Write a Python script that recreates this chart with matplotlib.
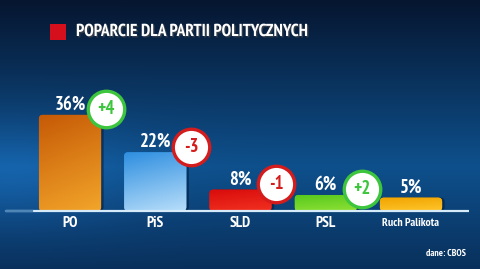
import numpy as np
import matplotlib
matplotlib.use("Agg")
import matplotlib.pyplot as plt
from matplotlib.patches import FancyBboxPatch, Rectangle
from matplotlib.colors import LinearSegmentedColormap
import matplotlib.patheffects as pe

# Data
parties = ["PO", "PiS", "SLD", "PSL", "Ruch Palikota"]
support = [36, 22, 8, 6, 5]
change = ["+4", "-3", "-1", "+2", None]
title = "POPARCIE DLA PARTII POLITYCZNYCH"
source = "dane: CBOS"

# bar colours (top, bottom)
bar_colors = [("#c65a06", "#f2a52a"), ("#2f8fe0", "#b7defa"), ("#d80c0c", "#f23020"),
              ("#55c81c", "#8ee035"), ("#f0a400", "#ffc52a")]
up_color = "#3dc53d"
down_color = "#d41c1c"

FONT = ["PT Sans Narrow", "Fira Sans Condensed", "DejaVu Sans"]
plt.rcParams["font.family"] = FONT

W, H = 480, 269
fig = plt.figure(figsize=(W / 100, H / 100), dpi=100)

# background gradient
bg = fig.add_axes([0, 0, 1, 1])
bg.set_axis_off()
yy = np.linspace(0, 1, 200)[:, None]
xx = np.linspace(0, 1, 300)[None, :]
top = np.array([6, 22, 48]) / 255
mid = np.array([14, 80, 140]) / 255
bot = np.array([9, 48, 92]) / 255
t = np.clip(yy / 0.62, 0, 1)
col = top * (1 - t[..., None]) + mid * t[..., None]
t2 = np.clip((yy - 0.62) / 0.38, 0, 1)
col = col * (1 - t2[..., None]) + bot * t2[..., None]
col = np.broadcast_to(col, (200, 300, 3)).copy()
glow = np.exp(-((xx - 0.02) / 0.25) ** 2 - ((yy - 0.65) / 0.2) ** 2)
col += glow[..., None] * np.array([0.03, 0.08, 0.13])
bg.imshow(np.clip(col, 0, 1), extent=[0, 1, 0, 1], aspect="auto", origin="upper")
bg.set_xlim(0, 1)
bg.set_ylim(0, 1)

# plotting axes: x in category units, y in percent
ax = fig.add_axes([0, 0, 1, 1])
ax.patch.set_alpha(0)
ax.set_axis_off()
step = 85.25
px_per_pct = 2.67
base_px = H - 211
ax.set_xlim(-70 / step, (W - 70) / step)
ax.set_ylim(-base_px / px_per_pct, (H - base_px) / px_per_pct)

x = np.arange(len(parties))
width = 0.73
rsize = 4 / step
for i, (v, (c1, c2)) in enumerate(zip(support, bar_colors)):
    # shadow
    sh = FancyBboxPatch((x[i] - width / 2 + 0.03, 0), width, v,
                        boxstyle=f"round,pad=0,rounding_size={rsize}",
                        mutation_aspect=step / px_per_pct,
                        fc="#02122a", ec="none", alpha=0.45, zorder=1)
    ax.add_patch(sh)
    patch = FancyBboxPatch((x[i] - width / 2, 0), width, v,
                           boxstyle=f"round,pad=0,rounding_size={rsize}",
                           mutation_aspect=step / px_per_pct,
                           fc=c1, ec="none", zorder=2)
    ax.add_patch(patch)
    cmap = LinearSegmentedColormap.from_list("b", [c1, c2])
    grad = np.linspace(0, 1, 64)[:, None] * np.ones((1, 16))
    grad = grad + 0.25 * np.linspace(0, 1, 16)[None, :]
    im = ax.imshow(grad, cmap=cmap, extent=[x[i] - width / 2, x[i] + width / 2, 0, v],
                   aspect="auto", zorder=2.5, origin="upper", vmin=0, vmax=1.25)
    im.set_clip_path(patch)
    ax.text(x[i], v + 3.8, f"{v}%", ha="center", va="center", color="white",
            fontsize=13.5, fontweight="bold", zorder=5)
    label_size = 11 if len(parties[i]) < 6 else 8.5
    ax.text(x[i], -4.5, parties[i], ha="center", va="center", color="white",
            fontsize=label_size, fontweight="bold", zorder=5)

# change badges
for i, ch in enumerate(change):
    if ch is None:
        continue
    c = up_color if ch.startswith("+") else down_color
    bx, by = x[i] + 0.42, support[i] + 2.1
    ax.scatter([bx], [by], s=690, facecolor="white", edgecolor=c, linewidth=2.4, zorder=6)
    ax.text(bx, by, ch, ha="center", va="center", color=c, fontsize=13.5,
            fontweight="bold", zorder=7)

# baseline
ax.plot([-0.75, 4.68], [0, 0], color="#d6ebfa", lw=1.6, zorder=4, solid_capstyle="butt")
ax.plot([-0.75, -0.45], [0, 0], color="#4f86b8", lw=1.6, zorder=4.1)

# title
fig.patches.append(Rectangle((50 / W, 1 - 40 / H), 16 / W, 16 / H,
                             transform=fig.transFigure, fc="#d5101c", ec="none"))
fig.text(76 / W, 1 - 32 / H, title, ha="left", va="center", color="white",
         fontsize=12.5, fontweight="bold",
         path_effects=[pe.withSimplePatchShadow(offset=(1, -1), alpha=0.6)])
fig.text(466 / W, 1 - 253 / H, source, ha="right", va="center", color="white",
         fontsize=7, fontweight="bold")

fig.savefig("out.png", dpi=100)
